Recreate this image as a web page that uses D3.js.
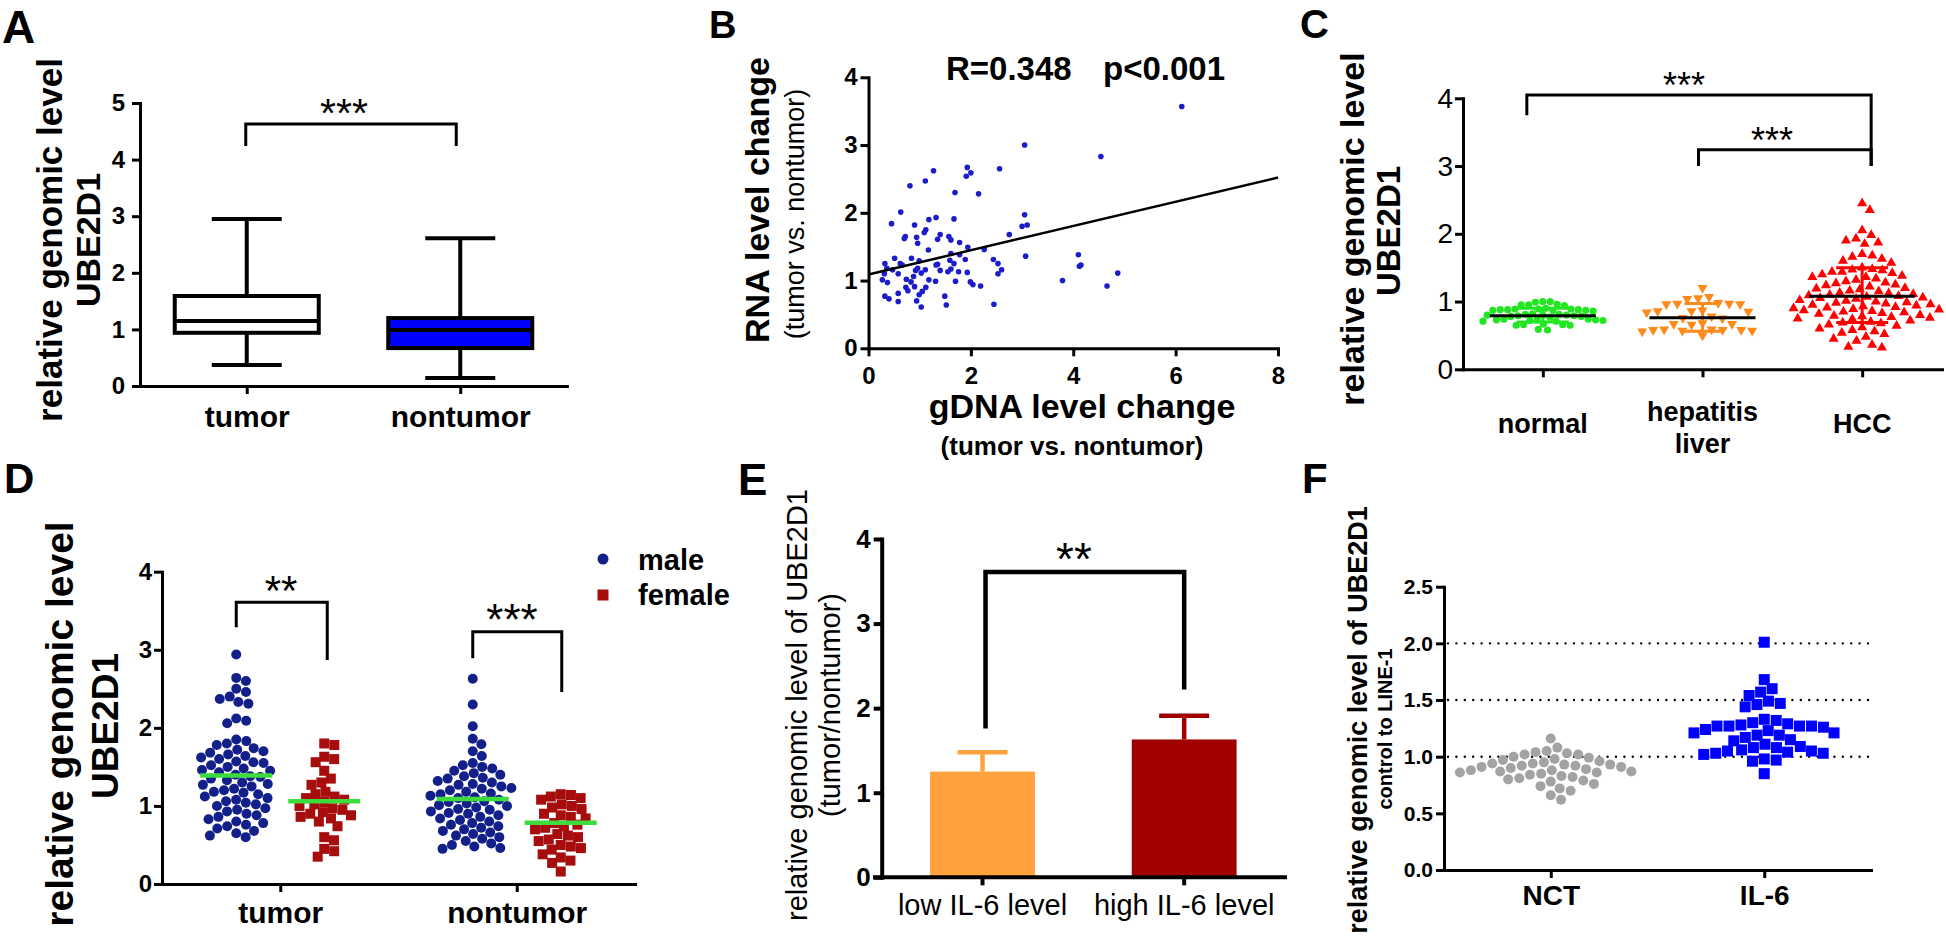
<!DOCTYPE html>
<html lang="en">
<head>
<meta charset="UTF-8">
<title>UBE2D1 genomic level</title>
<script src="https://d3js.org/d3.v7.min.js"></script>
<style>
  body { margin: 0; background: #fff; }
  svg { display: block; }
</style>
</head>
<body>
<div id="chart"></div>
<script>
// ---------- data ----------
// A: box plot
const aCats = ["tumor", "nontumor"];
const aLow = [0.37, 0.14];
const aQ1 = [0.94, 0.67];
const aMedian = [1.15, 0.99];
const aQ3 = [1.59, 1.20];
const aHigh = [2.95, 2.61];

// B: scatter, gDNA change vs RNA change
const bGdna = [0.32,0.45,0.63,0.81,1.11,1.27,1.93,2.00,1.91,1.69,2.15,2.56,1.67,1.18,1.32,0.90,1.12,1.09,1.40,1.78,1.57,1.61,0.72,0.70,0.94,1.17,0.96,2.75,2.26,1.94,1.61,1.35,0.99,0.84,0.62,0.51,0.36,0.31,0.27,0.37,0.32,0.40,0.58,0.58,0.77,0.83,0.88,0.92,0.96,1.03,1.11,1.18,1.31,1.12,1.05,0.99,0.94,1.03,1.49,1.52,1.70,1.76,1.93,1.89,1.55,1.61,1.67,1.78,1.40,1.32,1.99,2.04,2.19,2.44,2.53,2.60,2.53,2.45,0.73,0.58,0.47,0.66,0.74,0.90,1.59,1.35,3.05,3.05,3.00,3.10,3.07,4.54,4.10,4.12,4.15,3.79,4.66,4.87,6.12];
const bRna = [1.25,1.84,2.01,2.40,2.47,2.62,2.67,2.59,2.54,2.30,2.28,2.65,1.91,1.90,1.93,1.82,1.75,1.71,1.68,1.56,1.65,1.60,1.65,1.62,1.64,1.45,1.55,1.68,1.46,1.49,1.40,1.24,1.29,1.33,1.25,1.33,1.18,1.10,1.01,0.97,0.77,0.73,0.81,0.69,0.85,0.98,1.06,1.15,1.18,1.11,1.16,1.01,0.99,0.90,0.84,0.79,0.70,0.61,0.77,0.64,0.99,1.13,1.12,1.31,1.13,1.17,1.25,1.38,1.15,1.23,0.98,0.94,0.92,1.31,1.25,1.16,1.10,0.65,0.90,1.10,1.16,1.23,1.02,0.91,1.30,1.61,3.00,1.97,1.80,1.82,1.36,2.83,1.38,1.21,1.23,1.00,0.92,1.11,3.57];
const bFitX = [0, 8];
const bFitY = [1.09, 2.52];

// C: normal / hepatitis liver / HCC
const cCats = ["normal", "hepatitis liver", "HCC"];
const cNormal = [1.00,1.00,0.99,0.96,0.95,0.95,0.94,0.90,0.89,0.89,0.89,0.88,0.88,0.88,0.87,0.87,0.87,0.86,0.82,0.81,0.81,0.80,0.80,0.80,0.79,0.79,0.78,0.78,0.77,0.74,0.74,0.73,0.73,0.73,0.72,0.72,0.71,0.71,0.67,0.66,0.66,0.65,0.65,0.59,0.58];
const cHepatitis = [1.20,1.07,1.05,1.04,0.98,0.97,0.97,0.96,0.96,0.87,0.86,0.86,0.85,0.84,0.78,0.76,0.75,0.68,0.67,0.67,0.66,0.59,0.59,0.58,0.58,0.58,0.57,0.57,0.56,0.50];
const cHcc = [2.45,2.35,2.05,1.98,1.93,1.90,1.87,1.85,1.70,1.68,1.66,1.63,1.60,1.57,1.50,1.48,1.47,1.46,1.44,1.44,1.42,1.40,1.38,1.36,1.36,1.34,1.32,1.30,1.28,1.27,1.25,1.24,1.22,1.20,1.19,1.18,1.16,1.15,1.13,1.12,1.11,1.10,1.09,1.08,1.07,1.06,1.05,1.04,1.02,1.01,1.00,0.99,0.98,0.97,0.96,0.95,0.94,0.93,0.92,0.91,0.90,0.89,0.88,0.87,0.86,0.85,0.84,0.83,0.82,0.80,0.79,0.78,0.77,0.76,0.75,0.74,0.72,0.70,0.69,0.68,0.66,0.64,0.62,0.60,0.58,0.56,0.54,0.52,0.48,0.45,0.42,0.36,0.33,0.32];
const cMean = [0.79, 0.76, 1.08];
const cSdLow = [0.70, 0.56, 0.69];
const cSdHigh = [0.90, 0.97, 1.50];

// D: male / female in tumor and nontumor
const dCats = ["tumor", "nontumor"];
const dSeries = ["male", "female"];
const dMaleTumor = [2.94,2.64,2.60,2.50,2.46,2.40,2.37,2.33,2.31,2.12,2.09,2.06,1.85,1.83,1.80,1.78,1.74,1.72,1.70,1.68,1.66,1.64,1.62,1.60,1.57,1.56,1.55,1.52,1.50,1.48,1.46,1.45,1.43,1.40,1.38,1.37,1.35,1.33,1.30,1.28,1.27,1.25,1.22,1.20,1.18,1.17,1.15,1.12,1.10,1.08,1.06,1.04,1.02,1.00,0.97,0.95,0.93,0.90,0.88,0.86,0.83,0.80,0.78,0.76,0.74,0.71,0.68,0.65,0.62,0.60];
const dFemaleTumor = [1.80,1.78,1.63,1.60,1.56,1.45,1.35,1.30,1.27,1.18,1.15,1.12,1.10,1.08,1.05,1.02,1.00,0.97,0.95,0.92,0.90,0.88,0.86,0.84,0.80,0.74,0.60,0.56,0.45,0.42,0.35];
const dMaleNon = [2.63,2.30,2.02,1.86,1.79,1.70,1.64,1.55,1.52,1.50,1.48,1.45,1.42,1.40,1.38,1.36,1.35,1.32,1.30,1.28,1.27,1.25,1.23,1.22,1.20,1.18,1.16,1.15,1.13,1.11,1.10,1.08,1.06,1.05,1.03,1.01,1.00,0.98,0.96,0.95,0.93,0.91,0.90,0.88,0.86,0.84,0.82,0.80,0.78,0.76,0.74,0.72,0.70,0.68,0.66,0.64,0.62,0.60,0.58,0.55,0.52,0.50,0.48,0.46,0.45];
const dFemaleNon = [1.15,1.14,1.12,1.10,1.08,1.02,1.00,0.98,0.96,0.90,0.88,0.86,0.84,0.78,0.76,0.74,0.72,0.70,0.64,0.62,0.60,0.57,0.55,0.50,0.48,0.46,0.44,0.38,0.34,0.30,0.27,0.16];
const dMeans = [[1.39, 1.06], [1.09, 0.785]];

// E: bar chart with error bars
const eCats = ["low IL-6 level", "high IL-6 level"];
const eMeans = [1.25, 1.63];
const eErrTop = [1.48, 1.91];

// F: NCT vs IL-6
const fCats = ["NCT", "IL-6"];
const fNct = [1.16,1.08,1.05,1.04,1.03,1.02,1.02,1.00,0.99,0.98,0.97,0.96,0.95,0.94,0.94,0.93,0.93,0.92,0.92,0.91,0.91,0.90,0.89,0.88,0.88,0.87,0.87,0.86,0.86,0.85,0.84,0.83,0.82,0.81,0.80,0.79,0.78,0.76,0.74,0.72,0.70,0.66,0.62];
const fIl6 = [2.01,1.68,1.60,1.57,1.54,1.49,1.47,1.46,1.44,1.33,1.32,1.30,1.29,1.27,1.27,1.27,1.23,1.24,1.26,1.27,1.28,1.19,1.17,1.14,1.21,1.15,1.19,1.21,1.09,1.11,1.08,1.06,1.04,1.03,1.02,1.03,1.05,1.05,1.08,0.97,0.96,0.98,0.85];
const fGrid = [1.0, 1.5, 2.0];

// ---------- helpers ----------
const FF = "'Liberation Sans', Arial, Helvetica, sans-serif";
const svg = d3.select("#chart").append("svg")
    .attr("width", 1946).attr("height", 947)
    .attr("font-family", FF);

function drawAxis(gen, transform, fs, fw, sw) {
    const g = svg.append("g").attr("transform", transform).call(gen);
    g.attr("font-family", FF).attr("font-size", fs).attr("font-weight", fw);
    g.select(".domain").attr("stroke-width", sw).attr("stroke-linecap", "square");
    g.selectAll(".tick line").attr("stroke-width", sw);
    g.selectAll(".tick text").attr("fill", "#000");
    return g;
}

function vlabel(x, y, txt, fs, fw) {
    svg.append("text")
        .attr("transform", `translate(${x},${y}) rotate(-90)`)
        .attr("text-anchor", "middle").attr("dy", "0.35em")
        .attr("font-size", fs).attr("font-weight", fw)
        .text(txt);
}

function label(x, y, txt, fs, fw, anchor) {
    svg.append("text").attr("x", x).attr("y", y)
        .attr("text-anchor", anchor || "middle")
        .attr("font-size", fs).attr("font-weight", fw)
        .text(txt);
}

function bracket(x1, y1, x2, y2, top, stars, fs, sx, sw) {
    svg.append("path")
        .attr("d", `M${x1},${y1}V${top}H${x2}V${y2}`)
        .attr("fill", "none").attr("stroke", "#000").attr("stroke-width", sw);
    label(sx, top + 3, stars, fs, "normal");
}

// beeswarm: keep exact y, find the x offset nearest the centre that does not overlap
function swarm(vals, y, d) {
    const pts = vals.map(v => ({ v, y: y(v), x: 0 }));
    const placed = [];
    pts.slice().sort((a, b) => a.y - b.y).forEach(p => {
        const blocks = [];
        placed.forEach(q => {
            const dy = Math.abs(q.y - p.y);
            if (dy < d) {
                const w = Math.sqrt(d * d - dy * dy);
                blocks.push([q.x - w, q.x + w]);
            }
        });
        const cands = [0];
        blocks.forEach(b => cands.push(b[0], b[1]));
        cands.sort((a, b) => Math.abs(a) - Math.abs(b) || b - a);
        p.x = cands.find(c => blocks.every(b => c <= b[0] + 1e-6 || c >= b[1] - 1e-6));
        placed.push(p);
    });
    return pts;
}

// ---------- panel letters ----------
label(2, 43, "A", 46, "bold", "start");
label(709, 38, "B", 38, "bold", "start");
label(1300, 38, "C", 40, "bold", "start");
label(4, 493, "D", 42, "bold", "start");
label(738, 495, "E", 44, "bold", "start");
label(1302, 493, "F", 42, "bold", "start");

// ---------- A ----------
{
    const y = d3.scaleLinear().domain([0, 5]).range([386, 103]);
    const x = d3.scalePoint().domain(aCats).range([140, 567]).padding(0.5);
    drawAxis(d3.axisLeft(y).ticks(5).tickSize(8).tickPadding(7).tickSizeOuter(0), "translate(140,0)", 24, "bold", 3);
    drawAxis(d3.axisBottom(x).tickSize(8).tickPadding(11.7).tickSizeOuter(0), "translate(0,386)", 30, "bold", 3);
    const fills = ["#fff", "#0000ff"];
    aCats.forEach((c, i) => {
        const cx = x(c);
        const g = svg.append("g").attr("stroke", "#000").attr("stroke-width", 4);
        g.append("line").attr("x1", cx).attr("x2", cx).attr("y1", y(aHigh[i])).attr("y2", y(aLow[i]));
        g.append("line").attr("x1", cx - 35).attr("x2", cx + 35).attr("y1", y(aHigh[i])).attr("y2", y(aHigh[i]));
        g.append("line").attr("x1", cx - 35).attr("x2", cx + 35).attr("y1", y(aLow[i])).attr("y2", y(aLow[i]));
        g.append("rect").attr("x", cx - 72).attr("width", 144)
            .attr("y", y(aQ3[i])).attr("height", y(aQ1[i]) - y(aQ3[i])).attr("fill", fills[i]);
        g.append("line").attr("x1", cx - 72).attr("x2", cx + 72).attr("y1", y(aMedian[i])).attr("y2", y(aMedian[i]));
    });
    bracket(x("tumor") - 1, y(4.24), x("nontumor") - 4, y(4.24), y(4.63), "***", 41, 344, 3);
    vlabel(50, 240, "relative genomic level", 35, "bold");
    vlabel(88, 240, "UBE2D1", 34, "bold");
}

// ---------- B ----------
{
    const x = d3.scaleLinear().domain([0, 8]).range([868.5, 1278]);
    const y = d3.scaleLinear().domain([0, 4]).range([348.3, 77.3]);
    drawAxis(d3.axisLeft(y).ticks(4).tickSize(8).tickPadding(3).tickSizeOuter(0), "translate(868.5,0)", 24, "bold", 3);
    drawAxis(d3.axisBottom(x).tickValues([0, 2, 4, 6, 8]).tickSize(8).tickPadding(10.7).tickSizeOuter(0), "translate(0,348.3)", 24, "bold", 3);
    svg.append("g").selectAll("circle").data(bGdna).join("circle")
        .attr("cx", d => x(d)).attr("cy", (d, i) => y(bRna[i])).attr("r", 2.8).attr("fill", "#1c1cc8");
    svg.append("line").attr("x1", x(bFitX[0])).attr("y1", y(bFitY[0]))
        .attr("x2", x(bFitX[1])).attr("y2", y(bFitY[1])).attr("stroke", "#000").attr("stroke-width", 2.5);
    label(946, 80, "R=0.348", 33, "bold", "start");
    label(1103, 80, "p<0.001", 33, "bold", "start");
    vlabel(757, 200, "RNA level change", 34, "bold");
    vlabel(795, 214, "(tumor vs. nontumor)", 27, "normal");
    label(1082, 418, "gDNA level change", 34, "bold");
    label(1072, 455, "(tumor vs. nontumor)", 26, "bold");
}

// ---------- C ----------
{
    const y = d3.scaleLinear().domain([0, 4]).range([369.3, 98.3]);
    const x = d3.scalePoint().domain(cCats).range([1463, 1942]).padding(0.5);
    drawAxis(d3.axisLeft(y).ticks(4).tickSize(8).tickPadding(2).tickSizeOuter(0), "translate(1463,0)", 28, "normal", 3);
    drawAxis(d3.axisBottom(x).tickSize(8).tickFormat("").tickSizeOuter(0), "translate(0,369.3)", 27, "bold", 3);
    const sets = [cNormal, cHepatitis, cHcc];
    const colors = ["#22e622", "#ff8a1c", "#ff0000"];
    const spacing = [7.4, 11, 10.2];
    sets.forEach((vals, i) => {
        const cx = x(cCats[i]);
        const pts = swarm(vals, y, spacing[i]);
        const g = svg.append("g").attr("fill", colors[i]);
        if (i === 0) {
            g.selectAll("circle").data(pts).join("circle")
                .attr("cx", d => cx + d.x).attr("cy", d => d.y).attr("r", 3.6);
        } else {
            g.selectAll("path").data(pts).join("path")
                .attr("d", d3.symbol().type(d3.symbolTriangle).size(44))
                .attr("transform", d => `translate(${cx + d.x},${d.y})` + (i === 1 ? " rotate(180)" : ""));
        }
        const e = svg.append("g").attr("stroke", colors[i]).attr("stroke-width", 3);
        const hw = i === 1 ? 18 : 26;
        e.append("line").attr("x1", cx).attr("x2", cx).attr("y1", y(cSdHigh[i])).attr("y2", y(cSdLow[i]));
        [cSdHigh[i], cSdLow[i]].forEach(v => e.append("line")
            .attr("x1", cx - hw).attr("x2", cx + hw).attr("y1", y(v)).attr("y2", y(v)));
        svg.append("line").attr("x1", cx - 53).attr("x2", cx + 53)
            .attr("y1", y(cMean[i])).attr("y2", y(cMean[i])).attr("stroke", "#000").attr("stroke-width", 3);
    });
    bracket(x("normal") - 16, y(3.75), x("HCC") + 9, y(3.0), y(4.05), "***", 36, 1684, 3);
    bracket(x("hepatitis liver") - 4, y(3.0), x("HCC") + 9, y(3.0), y(3.24), "***", 36, 1772, 3);
    label(x("normal"), 433, "normal", 27, "bold");
    label(x("hepatitis liver"), 421, "hepatitis", 27, "bold");
    label(x("hepatitis liver"), 453, "liver", 27, "bold");
    label(x("HCC"), 433, "HCC", 27, "bold");
    vlabel(1352, 229, "relative genomic level", 34, "bold");
    vlabel(1388, 231, "UBE2D1", 33, "bold");
}

// ---------- D ----------
{
    const y = d3.scaleLinear().domain([0, 4]).range([884, 571.7]);
    const x = d3.scalePoint().domain(dCats).range([162, 635]).padding(0.5);
    const sub = d3.scalePoint().domain(dSeries).range([-44, 44]);
    drawAxis(d3.axisLeft(y).ticks(4).tickSize(8).tickPadding(2).tickSizeOuter(0), "translate(162,0)", 24, "bold", 3);
    drawAxis(d3.axisBottom(x).tickSize(8).tickPadding(9.7).tickSizeOuter(0), "translate(0,884)", 30, "bold", 3);
    const groups = [[dMaleTumor, dFemaleTumor], [dMaleNon, dFemaleNon]];
    const navy = "#13208a", darkRed = "#a80d0d";
    dCats.forEach((c, ci) => {
        dSeries.forEach((s, si) => {
            const cx = x(c) + sub(s);
            const pts = swarm(groups[ci][si], y, 10.2);
            const g = svg.append("g");
            if (si === 0) {
                g.selectAll("circle").data(pts).join("circle")
                    .attr("cx", d => cx + d.x).attr("cy", d => d.y).attr("r", 5).attr("fill", navy);
            } else {
                g.selectAll("rect").data(pts).join("rect")
                    .attr("x", d => cx + d.x - 5).attr("y", d => d.y - 5)
                    .attr("width", 10).attr("height", 10).attr("fill", darkRed);
            }
            svg.append("line").attr("x1", cx - 36).attr("x2", cx + 36)
                .attr("y1", y(dMeans[ci][si])).attr("y2", y(dMeans[ci][si]))
                .attr("stroke", "#3ddc3d").attr("stroke-width", 4.5);
        });
    });
    bracket(x("tumor") - 44, y(3.29), x("tumor") + 47, y(2.87), y(3.61), "**", 42, 281, 3);
    bracket(x("nontumor") - 44, y(2.89), x("nontumor") + 45, y(2.46), y(3.23), "***", 44, 512, 3);
    // legend
    svg.append("circle").attr("cx", 603).attr("cy", 559).attr("r", 5.5).attr("fill", navy);
    svg.append("rect").attr("x", 597.5).attr("y", 589.5).attr("width", 11).attr("height", 11).attr("fill", darkRed);
    label(638, 570, "male", 29, "bold", "start");
    label(638, 605, "female", 29, "bold", "start");
    vlabel(59, 724, "relative genomic level", 39, "bold");
    vlabel(105, 726, "UBE2D1", 37, "bold");
}

// ---------- E ----------
{
    const y = d3.scaleLinear().domain([0, 4]).range([877.3, 539]);
    const x = d3.scaleBand().domain(eCats).range([881.7, 1285]).paddingInner(0.48).paddingOuter(0.24);
    const colors = ["#ffa13d", "#a00000"];
    eCats.forEach((c, i) => {
        const cx = x(c) + x.bandwidth() / 2;
        svg.append("rect").attr("x", x(c)).attr("width", x.bandwidth())
            .attr("y", y(eMeans[i])).attr("height", y(0) - y(eMeans[i])).attr("fill", colors[i]);
        const g = svg.append("g").attr("stroke", colors[i]).attr("stroke-width", 4.5);
        g.append("line").attr("x1", cx).attr("x2", cx).attr("y1", y(eMeans[i])).attr("y2", y(eErrTop[i]));
        g.append("line").attr("x1", cx - 25).attr("x2", cx + 25).attr("y1", y(eErrTop[i])).attr("y2", y(eErrTop[i]));
    });
    drawAxis(d3.axisLeft(y).ticks(4).tickSize(8).tickPadding(3).tickSizeOuter(0), "translate(881.7,0)", 26, "bold", 4);
    const xa = drawAxis(d3.axisBottom(x).tickSize(8).tickPadding(9.1).tickSizeOuter(0), "translate(0,877.3)", 29, "normal", 4);
    xa.select(".domain").attr("d", "M875,0H1285");
    bracket(x(eCats[0]) + x.bandwidth() / 2 + 3, y(1.76), x(eCats[1]) + x.bandwidth() / 2, y(2.22), y(3.61), "**", 46, 1074, 4.5);
    vlabel(797, 705, "relative genomic level of UBE2D1", 29, "normal");
    vlabel(830, 705, "(tumor/nontumor)", 29, "normal");
}

// ---------- F ----------
{
    const y = d3.scaleLinear().domain([0, 2.5]).range([870, 586.7]);
    const x = d3.scalePoint().domain(fCats).range([1444, 1871]).padding(0.5);
    svg.append("g").selectAll("line").data(fGrid).join("line")
        .attr("x1", 1448).attr("x2", 1871).attr("y1", d => y(d)).attr("y2", d => y(d))
        .attr("stroke", "#000").attr("stroke-width", 2.4).attr("stroke-linecap", "round")
        .attr("stroke-dasharray", "0,8.4");
    drawAxis(d3.axisLeft(y).tickValues([0, 0.5, 1, 1.5, 2, 2.5]).tickFormat(d3.format(".1f"))
        .tickSize(8).tickPadding(3).tickSizeOuter(0), "translate(1444,0)", 21, "bold", 3);
    drawAxis(d3.axisBottom(x).tickSize(8).tickPadding(7).tickSizeOuter(0), "translate(0,870)", 28, "bold", 3);
    const nct = swarm(fNct, y, 11.2);
    svg.append("g").selectAll("circle").data(nct).join("circle")
        .attr("cx", d => x("NCT") + d.x).attr("cy", d => d.y).attr("r", 5).attr("fill", "#a3a3a3");
    const il6 = swarm(fIl6, y, 12);
    svg.append("g").selectAll("rect").data(il6).join("rect")
        .attr("x", d => x("IL-6") + d.x - 5.5).attr("y", d => d.y - 5.5)
        .attr("width", 11).attr("height", 11).attr("fill", "#0000ff");
    vlabel(1358, 720, "relative genomic level of UBE2D1", 27, "bold");
    vlabel(1385, 729, "control  to LINE-1", 20, "bold");
}
</script>
</body>
</html>
